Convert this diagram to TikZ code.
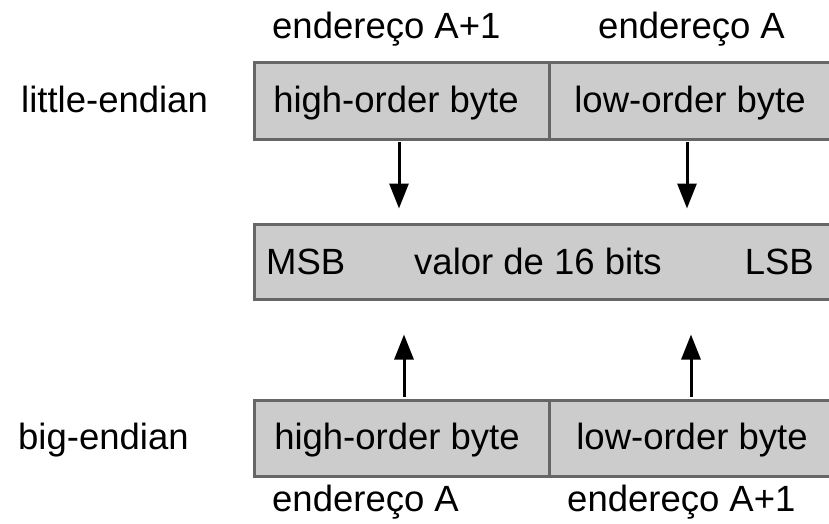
\documentclass[tikz,border=0pt]{standalone}
\usepackage{fontspec}
\setmainfont{Liberation Sans}
\usetikzlibrary{arrows.meta}
\definecolor{cellfill}{HTML}{CCCCCC}
\definecolor{cellline}{HTML}{666666}
\begin{document}
\begin{tikzpicture}[x=1pt,y=-1pt,
  every node/.style={font=\fontsize{36.5}{44}\selectfont, inner sep=0pt},
  cell/.style={draw=cellline, fill=cellfill, line width=3pt, minimum height=76pt, anchor=center},
  txt/.style={anchor=base},
  lbl/.style={anchor=base west},
  arr/.style={line width=3pt, -{Triangle[length=25pt,width=19pt]}}
]
\useasboundingbox (0,0) rectangle (829,524);
\clip (0,0) rectangle (829,524);
% top (little-endian)
\node[cell, minimum width=295pt] (hiT) at (401.5,101) {};
\node[cell, minimum width=283pt] (loT) at (690.5,101) {};
\node[txt] (hiTt) at (396,113) {high-order byte};
\node[txt] (loTt) at (690,113) {low-order byte};
% middle value
\node[cell, minimum width=578pt, minimum height=75pt] (mid) at (543,261.5) {};
\node[lbl] (msb) at (266,274) {MSB};
\node[txt] (val) at (538,274) {valor de 16 bits};
\node[anchor=base east] (lsb) at (814,274) {LSB};
% bottom (big-endian)
\node[cell, minimum width=295pt] (hiB) at (401.5,438) {};
\node[cell, minimum width=283pt] (loB) at (690.5,438) {};
\node[txt] (hiBt) at (397,449) {high-order byte};
\node[txt] (loBt) at (692,449) {low-order byte};
% side labels
\node[lbl] (le) at (21,113) {little-endian};
\node[lbl] (be) at (18,449) {big-endian};
% address labels
\node[lbl] (aT1) at (272,39) {endereço A+1};
\node[lbl] (aT0) at (598,39) {endereço A};
\node[lbl] (aB0) at (272,511) {endereço A};
\node[lbl] (aB1) at (567,511) {endereço A+1};
% arrows
\draw[arr, shorten <=1.5pt, shorten >=14pt] ([xshift=-2.5pt]hiT.south) -- ([xshift=-2.5pt]hiT.south |- mid.north);
\draw[arr, shorten <=1.5pt, shorten >=14pt] ([xshift=-3.5pt]loT.south) -- ([xshift=-3.5pt]loT.south |- mid.north);
\draw[arr, shorten <=1.5pt, shorten >=34pt] ([xshift=2.5pt]hiB.north) -- ([xshift=2.5pt]hiB.north |- mid.south);
\draw[arr, shorten <=1.5pt, shorten >=34pt] ([xshift=0.5pt]loB.north) -- ([xshift=0.5pt]loB.north |- mid.south);
\end{tikzpicture}
\end{document}
